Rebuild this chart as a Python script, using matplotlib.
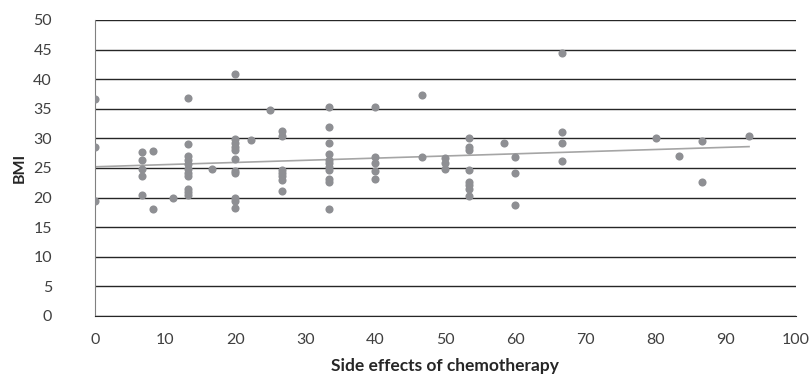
import numpy as np
import matplotlib
matplotlib.use("Agg")
import matplotlib.pyplot as plt

plt.rcParams['font.family'] = ['Lato', 'DejaVu Sans']

# side effects score (x) and BMI (y)
side_effects = [0, 0, 0,
                6.67, 6.67, 6.67, 6.67, 6.67,
                8.33, 8.33,
                11.1,
                13.33, 13.33, 13.33, 13.33, 13.33, 13.33, 13.33, 13.33, 13.33, 13.33, 13.33,
                16.67,
                20, 20, 20, 20, 20, 20, 20, 20, 20, 20, 20,
                22.2,
                25,
                26.67, 26.67, 26.67, 26.67, 26.67, 26.67, 26.67,
                33.33, 33.33, 33.33, 33.33, 33.33, 33.33, 33.33, 33.33, 33.33, 33.33, 33.33,
                40, 40, 40, 40, 40,
                46.67, 46.67,
                50, 50, 50,
                53.33, 53.33, 53.33, 53.33, 53.33, 53.33, 53.33, 53.33,
                58.33,
                60, 60, 60,
                66.67, 66.67, 66.67, 66.67,
                80,
                83.33,
                86.67, 86.67,
                93.33]
bmi = [36.7, 28.6, 19.4,
       27.7, 26.3, 24.9, 23.6, 20.4,
       27.9, 18.0,
       20.0,
       36.8, 29.1, 27.1, 26.4, 25.7, 24.9, 24.2, 23.6, 21.5, 20.9, 20.4,
       24.8,
       40.9, 29.9, 29.3, 28.6, 28.0, 26.5, 24.5, 24.1, 20.0, 19.5, 18.2,
       29.7,
       34.8,
       31.2, 30.4, 24.7, 24.2, 23.6, 23.0, 21.1,
       35.3, 31.9, 29.3, 27.3, 26.4, 25.8, 25.2, 24.6, 23.1, 22.6, 18.0,
       35.3, 26.9, 25.9, 24.5, 23.1,
       37.3, 26.8,
       26.6, 25.8, 24.9,
       30.1, 28.6, 28.1, 24.7, 22.7, 22.1, 21.5, 20.3,
       29.3,
       26.9, 24.2, 18.75,
       44.5, 31.1, 29.3, 26.2,
       30.1,
       27.1,
       29.6, 22.6,
       30.4]

x_ticks = list(range(0, 101, 10))
y_ticks = list(range(0, 51, 5))

fig = plt.figure(figsize=(8.12, 3.77), dpi=100)
ax = fig.add_axes([0.117, 0.162, 0.863, 0.785])

ax.scatter(side_effects, bmi, s=34, color='#8e8f93', zorder=3, linewidths=0)

# linear trendline over the data range
x = np.array(side_effects)
slope, icpt = np.polyfit(x, bmi, 1)
xs = np.array([x.min(), x.max()])
ax.plot(xs, slope * xs + icpt, color='#a5a5a5', lw=1.2, zorder=2)

ax.set_xlim(0, 100)
ax.set_ylim(0, 50)
ax.set_xticks(x_ticks)
ax.set_yticks(y_ticks)
ax.yaxis.grid(True, color='#262626', lw=1.0)
ax.set_axisbelow(True)
ax.tick_params(length=0, labelsize=11.5, colors='#404040')
ax.tick_params(axis='x', pad=12)
ax.tick_params(axis='y', pad=31)

for s in ['top', 'right']:
    ax.spines[s].set_visible(False)
ax.spines['bottom'].set_color('#262626')
ax.spines['left'].set_color('#808080')

ax.set_xlabel('Side effects of chemotherapy', fontsize=12.5, fontweight='bold', color='#262626', labelpad=8)
ax.set_ylabel('BMI', fontsize=11.5, fontweight='bold', color='#262626', labelpad=5)

fig.savefig('out.png', dpi=100)
